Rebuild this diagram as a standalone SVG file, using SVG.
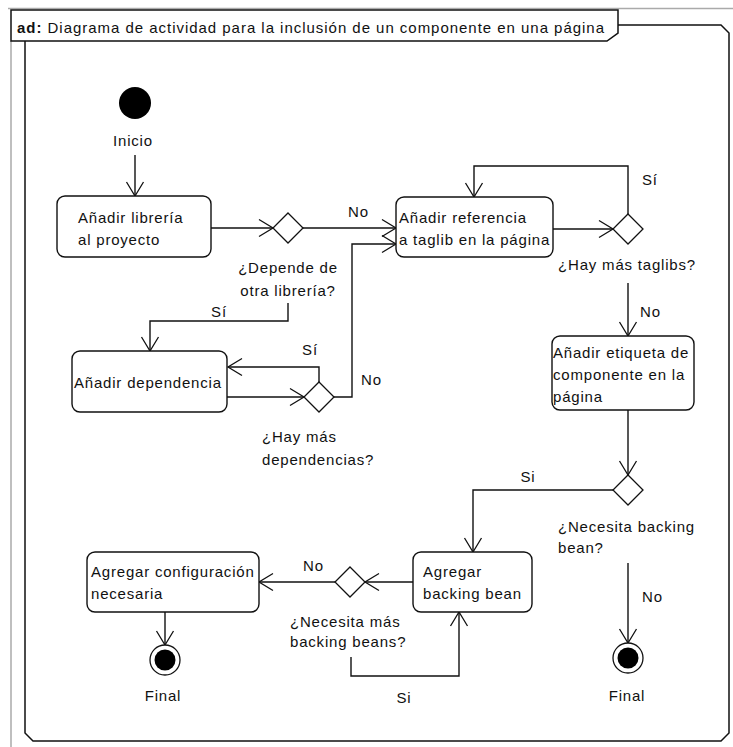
<svg xmlns="http://www.w3.org/2000/svg" width="733" height="747" viewBox="0 0 733 747">
<style>
  text { font-family: "Liberation Sans", Arial, sans-serif; font-size: 15px; letter-spacing: 0.8px; fill: #111; }
  .hdr { letter-spacing: 0.97px; }
  .box { fill: #fff; stroke: #111; stroke-width: 1.4; }
  .dia { fill: #fff; stroke: #111; stroke-width: 1.3; }
  .con { fill: none; stroke: #111; stroke-width: 1.4; marker-end: url(#arr); }
  .frame { fill: none; stroke: #111; stroke-width: 1.5; }
  .gray { fill: none; stroke: #aaa; stroke-width: 1.5; }
  .mid { text-anchor: middle; }
</style>
<defs>
  <marker id="arr" viewBox="-16 -10 18 20" refX="0" refY="0" markerWidth="18" markerHeight="20" markerUnits="userSpaceOnUse" orient="auto">
    <path d="M-14,-8.5 L0,0 L-14,8.5" fill="none" stroke="#111" stroke-width="1.3"/>
  </marker>
</defs>
<rect width="733" height="747" fill="#fff"/>
<g id="frame">
  <path class="gray" d="M8,8.5 H733 M11,41 V747"/>
  <path class="frame" d="M618,25 H721 L729,33 V733 L721,741 H33 L25,733 V41"/>
  <path class="frame" fill="#fff" d="M11,10 H618 V33 L607,41 H11 Z"/>
  <text x="17" y="33" class="hdr"><tspan font-weight="bold">ad:</tspan> Diagrama de actividad para la inclusión de un componente en una página</text>
</g>
<g id="connectors">
  <path class="con" d="M135,155 V196"/>
  <path class="con" d="M211,228 H273"/>
  <path class="con" d="M303,228 H396"/>
  <path class="con" d="M288,303 V321 H150 V351"/>
  <path class="con" d="M227,397 H304"/>
  <path class="con" d="M319,382 V367 H228"/>
  <path class="con" d="M334,397 H352 V244 H396"/>
  <path class="con" d="M553,229 H613"/>
  <path class="con" d="M628,214 V166 H474 V197"/>
  <path class="con" d="M628,283 V336"/>
  <path class="con" d="M628,410 V475"/>
  <path class="con" d="M613,490 H473 V552"/>
  <path class="con" d="M628,563 V643"/>
  <path class="con" d="M413,582 H365"/>
  <path class="con" d="M335,582 H259"/>
  <path class="con" d="M351,657 V676 H459 V612"/>
  <path class="con" d="M165,612 V645"/>
  <text x="348" y="217">No</text>
  <text x="219" y="317" class="mid">Sí</text>
  <text x="310" y="355" class="mid">Sí</text>
  <text x="361" y="385">No</text>
  <text x="642" y="185">Sí</text>
  <text x="640" y="317">No</text>
  <text x="528" y="482" class="mid">Si</text>
  <text x="642" y="602">No</text>
  <text x="303" y="571">No</text>
  <text x="404" y="703" class="mid">Si</text>
</g>
<g id="inicio">
  <circle cx="135" cy="103" r="16" fill="#000"/>
  <text x="133" y="146" class="mid">Inicio</text>
</g>
<g id="anadir-libreria">
  <rect class="box" x="57" y="196" width="154" height="61" rx="8"/>
  <text x="78" y="223">Añadir librería</text>
  <text x="78" y="245">al proyecto</text>
</g>
<g id="depende">
  <path class="dia" d="M288,213 L303,228 L288,243 L273,228 Z"/>
  <text x="288" y="273" class="mid">¿Depende de</text>
  <text x="288" y="296" class="mid">otra librería?</text>
</g>
<g id="anadir-dependencia">
  <rect class="box" x="72" y="351" width="155" height="61" rx="8"/>
  <text x="74" y="388">Añadir dependencia</text>
</g>
<g id="mas-dependencias">
  <path class="dia" d="M319,382 L334,397 L319,412 L304,397 Z"/>
  <text x="262" y="442">¿Hay más</text>
  <text x="262" y="465">dependencias?</text>
</g>
<g id="anadir-referencia">
  <rect class="box" x="396" y="197" width="157" height="60" rx="8"/>
  <text x="399" y="223">Añadir referencia</text>
  <text x="399" y="245">a taglib en la página</text>
</g>
<g id="mas-taglibs">
  <path class="dia" d="M628,214 L643,229 L628,244 L613,229 Z"/>
  <text x="627" y="270" class="mid">¿Hay más taglibs?</text>
</g>
<g id="anadir-etiqueta">
  <rect class="box" x="552" y="336" width="142" height="74" rx="8"/>
  <text x="553" y="358">Añadir etiqueta de</text>
  <text x="553" y="380">componente en la</text>
  <text x="553" y="402">página</text>
</g>
<g id="necesita-backing">
  <path class="dia" d="M628,475 L643,490 L628,505 L613,490 Z"/>
  <text x="558" y="532">¿Necesita backing</text>
  <text x="558" y="553">bean?</text>
</g>
<g id="agregar-backing">
  <rect class="box" x="413" y="552" width="119" height="60" rx="8"/>
  <text x="423" y="577">Agregar</text>
  <text x="423" y="599">backing bean</text>
</g>
<g id="mas-backing">
  <path class="dia" d="M350,567 L365,582 L350,597 L335,582 Z"/>
  <text x="290" y="627">¿Necesita más</text>
  <text x="290" y="647">backing beans?</text>
</g>
<g id="agregar-configuracion">
  <rect class="box" x="87" y="552" width="172" height="60" rx="8"/>
  <text x="91" y="577">Agregar configuración</text>
  <text x="91" y="599">necesaria</text>
</g>
<g id="final1">
  <circle cx="165" cy="660" r="15" fill="#fff" stroke="#111" stroke-width="1.3"/>
  <circle cx="165" cy="660" r="10.5" fill="#000"/>
  <text x="163" y="701" class="mid">Final</text>
</g>
<g id="final2">
  <circle cx="628" cy="658" r="15" fill="#fff" stroke="#111" stroke-width="1.3"/>
  <circle cx="628" cy="658" r="10.5" fill="#000"/>
  <text x="627" y="701" class="mid">Final</text>
</g>
</svg>
